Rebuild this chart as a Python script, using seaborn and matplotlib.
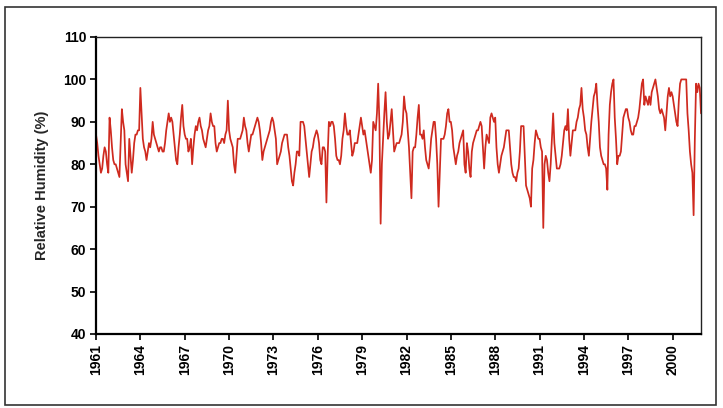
import numpy as np
import pandas as pd
import matplotlib
matplotlib.use("Agg")
import matplotlib.pyplot as plt
import seaborn as sns
from matplotlib.patches import Rectangle

# Monthly relative humidity (%), Jan 1961 - Dec 2001
rh_1960s = [
    87, 85, 82, 80, 78, 79, 82, 84, 83, 80, 78, 91,   # 1961
    88, 84, 81, 80, 80, 79, 78, 77, 85, 93, 90, 88,   # 1962
    80, 78, 76, 86, 82, 78, 81, 85, 87, 87, 88, 88,   # 1963
    98, 92, 86, 84, 83, 81, 83, 85, 84, 86, 90, 87,   # 1964
    86, 85, 84, 83, 84, 84, 83, 83, 85, 88, 90, 92,   # 1965
    90, 91, 90, 87, 84, 81, 80, 84, 87, 91, 94, 89,   # 1966
    87, 86, 86, 83, 84, 86, 80, 84, 87, 89, 88, 90,   # 1967
    91, 89, 88, 86, 85, 84, 86, 88, 89, 92, 90, 89,   # 1968
    89, 85, 83, 84, 85, 85, 86, 86, 85, 87, 88, 95,   # 1969
]
rh_1970s = [
    88, 86, 85, 84, 80, 78, 82, 86, 86, 86, 87, 88,   # 1970
    91, 89, 88, 85, 83, 85, 87, 87, 88, 89, 90, 91,   # 1971
    90, 88, 85, 81, 83, 84, 85, 86, 87, 88, 90, 91,   # 1972
    90, 88, 86, 80, 81, 82, 83, 85, 86, 87, 87, 87,   # 1973
    84, 82, 79, 76, 75, 78, 80, 83, 83, 82, 90, 90,   # 1974
    90, 89, 86, 83, 80, 77, 80, 83, 84, 86, 87, 88,   # 1975
    87, 85, 81, 80, 84, 84, 83, 71, 82, 90, 89, 90,   # 1976
    90, 89, 86, 82, 81, 81, 80, 82, 86, 88, 92, 89,   # 1977
    87, 87, 88, 85, 82, 83, 85, 85, 85, 87, 89, 91,   # 1978
    89, 87, 88, 86, 84, 82, 80, 78, 81, 90, 89, 88,   # 1979
]
rh_1980s = [
    92, 99, 90, 66, 80, 86, 92, 97, 90, 86, 87, 90,   # 1980
    93, 88, 83, 84, 85, 85, 85, 86, 87, 90, 96, 93,   # 1981
    92, 88, 84, 78, 72, 83, 84, 84, 87, 91, 94, 87,   # 1982
    87, 86, 88, 84, 81, 80, 79, 82, 86, 88, 90, 90,   # 1983
    86, 80, 70, 78, 86, 86, 86, 87, 89, 92, 93, 90,   # 1984
    90, 88, 84, 82, 80, 82, 83, 85, 86, 87, 88, 80,   # 1985
    78, 85, 83, 79, 77, 83, 85, 86, 87, 88, 88, 89,   # 1986
    90, 89, 84, 79, 84, 87, 86, 85, 91, 92, 91, 90,   # 1987
    91, 84, 80, 78, 80, 82, 83, 84, 86, 88, 88, 88,   # 1988
    84, 80, 78, 77, 77, 76, 78, 79, 83, 89, 89, 89,   # 1989
]
rh_1990s = [
    82, 75, 74, 73, 72, 70, 79, 81, 85, 88, 87, 86,   # 1990
    86, 84, 83, 65, 80, 82, 81, 78, 76, 80, 86, 92,   # 1991
    85, 82, 79, 79, 79, 80, 82, 85, 88, 89, 88, 93,   # 1992
    86, 82, 85, 88, 88, 88, 90, 91, 93, 94, 98, 93,   # 1993
    91, 88, 87, 84, 82, 86, 90, 93, 96, 97, 99, 94,   # 1994
    90, 84, 82, 81, 80, 80, 79, 74, 87, 94, 97, 99,   # 1995
    100, 91, 86, 80, 82, 82, 83, 87, 91, 92, 93, 93,  # 1996
    91, 90, 88, 87, 87, 89, 89, 90, 91, 93, 96, 99,   # 1997
    100, 94, 96, 95, 94, 96, 94, 97, 98, 99, 100, 98, # 1998
    96, 93, 92, 93, 92, 91, 88, 92, 96, 98, 96, 97,   # 1999
]
rh_2000s = [
    96, 94, 92, 90, 89, 95, 99, 100, 100, 100, 100, 100,  # 2000
    92, 88, 83, 80, 78, 68, 86, 99, 97, 99, 98, 92,       # 2001
]

tick_years = ["1961", "1964", "1967", "1970", "1973", "1976", "1979",
              "1982", "1985", "1988", "1991", "1994", "1997", "2000"]
y_ticks = [40, 50, 60, 70, 80, 90, 100, 110]

values = rh_1960s + rh_1970s + rh_1980s + rh_1990s + rh_2000s
df = pd.DataFrame({"month": np.arange(len(values)), "rh": values})

sns.set_style("white")
plt.rcParams["font.family"] = ["Liberation Sans", "DejaVu Sans"]

fig = plt.figure(figsize=(7.23, 4.08), dpi=100)
ax = fig.add_axes([96 / 723, 1 - 334 / 408, 605 / 723, 297 / 408])

sns.lineplot(data=df, x="month", y="rh", ax=ax, color="#cf2a1f",
             linewidth=1.25, estimator=None)

ax.set_xlim(0, len(values) - 1)
ax.set_ylim(40, 110)
ax.set_yticks(y_ticks)
ax.set_yticklabels([str(v) for v in y_ticks], fontsize=10, fontweight="bold")
ax.set_xticks([i * 36 for i in range(len(tick_years))])
ax.set_xticklabels(tick_years, rotation=90, fontsize=10, fontweight="bold")
ax.set_xlabel("")
ax.set_ylabel("Relative Humidity (%)", fontsize=10.5, fontweight="bold",
              labelpad=10)

ax.tick_params(axis="both", direction="out", length=4, width=1.2,
               colors="black", left=True, bottom=True, pad=3)
for side in ["left", "bottom"]:
    ax.spines[side].set_linewidth(1.6)
    ax.spines[side].set_color("black")
for side in ["top", "right"]:
    ax.spines[side].set_linewidth(1.0)
    ax.spines[side].set_color("#222222")
ax.grid(False)

# outer frame of the figure
fig.patches.append(Rectangle((5 / 723, 3 / 408), 711 / 723, 398 / 408,
                             transform=fig.transFigure, fill=False,
                             edgecolor="#333333", linewidth=1.2))

fig.savefig("out.png", dpi=100)
